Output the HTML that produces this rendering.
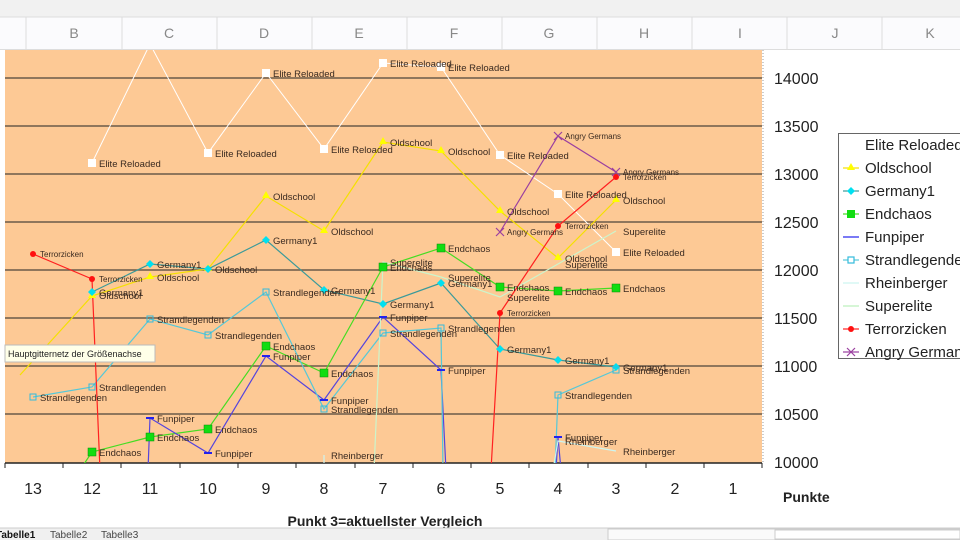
<!DOCTYPE html>
<html><head><meta charset="utf-8"><style>
body{margin:0;width:960px;height:540px;overflow:hidden;background:#fff;font-family:"Liberation Sans",sans-serif}
</style></head><body>
<svg width="960" height="540" viewBox="0 0 960 540" xmlns="http://www.w3.org/2000/svg" font-family="Liberation Sans, sans-serif">
<rect x="0" y="0" width="960" height="17" fill="#f1f1f1"/>
<rect x="0" y="17" width="960" height="33" fill="#fbfbfd"/>
<line x1="0" y1="17" x2="960" y2="17" stroke="#ddd"/>
<line x1="0" y1="49.5" x2="960" y2="49.5" stroke="#ddd"/>
<g stroke="#ddd">
<line x1="26" y1="17" x2="26" y2="50"/><line x1="122" y1="17" x2="122" y2="50"/><line x1="217" y1="17" x2="217" y2="50"/><line x1="312" y1="17" x2="312" y2="50"/><line x1="407" y1="17" x2="407" y2="50"/><line x1="502" y1="17" x2="502" y2="50"/><line x1="597" y1="17" x2="597" y2="50"/><line x1="692" y1="17" x2="692" y2="50"/><line x1="787" y1="17" x2="787" y2="50"/><line x1="882" y1="17" x2="882" y2="50"/>
</g>
<g fill="#888" font-size="14" text-anchor="middle">
<text x="74" y="38">B</text><text x="169" y="38">C</text><text x="264" y="38">D</text><text x="359" y="38">E</text><text x="454" y="38">F</text><text x="549" y="38">G</text><text x="644" y="38">H</text><text x="740" y="38">I</text><text x="835" y="38">J</text><text x="930" y="38">K</text>
</g>
<rect x="5" y="50" width="757" height="413" fill="#fdc995"/>
<g stroke="#6b5a4a" stroke-width="1.5">
<line x1="5" y1="78" x2="762" y2="78"/><line x1="5" y1="126" x2="762" y2="126"/><line x1="5" y1="174" x2="762" y2="174"/><line x1="5" y1="222" x2="762" y2="222"/><line x1="5" y1="270" x2="762" y2="270"/><line x1="5" y1="318" x2="762" y2="318"/><line x1="5" y1="366" x2="762" y2="366"/><line x1="5" y1="414" x2="762" y2="414"/>
</g>
<line x1="5" y1="463" x2="762" y2="463" stroke="#222" stroke-width="1.5"/>
<g stroke="#222"><line x1="5" y1="463" x2="5" y2="468"/><line x1="63" y1="463" x2="63" y2="468"/><line x1="121" y1="463" x2="121" y2="468"/><line x1="180" y1="463" x2="180" y2="468"/><line x1="238" y1="463" x2="238" y2="468"/><line x1="296" y1="463" x2="296" y2="468"/><line x1="355" y1="463" x2="355" y2="468"/><line x1="413" y1="463" x2="413" y2="468"/><line x1="471" y1="463" x2="471" y2="468"/><line x1="529" y1="463" x2="529" y2="468"/><line x1="588" y1="463" x2="588" y2="468"/><line x1="646" y1="463" x2="646" y2="468"/><line x1="704" y1="463" x2="704" y2="468"/><line x1="762" y1="463" x2="762" y2="468"/></g>
<line x1="763" y1="50" x2="763" y2="463" stroke="#999" stroke-dasharray="1,2"/>
<g font-size="16" fill="#222" text-anchor="middle">
<text x="33" y="494">13</text><text x="92" y="494">12</text><text x="150" y="494">11</text><text x="208" y="494">10</text><text x="266" y="494">9</text><text x="324" y="494">8</text><text x="383" y="494">7</text><text x="441" y="494">6</text><text x="500" y="494">5</text><text x="558" y="494">4</text><text x="616" y="494">3</text><text x="675" y="494">2</text><text x="733" y="494">1</text>
</g>
<g font-size="16" fill="#222">
<text x="774" y="84">14000</text><text x="774" y="132">13500</text><text x="774" y="180">13000</text><text x="774" y="228">12500</text><text x="774" y="276">12000</text><text x="774" y="324">11500</text><text x="774" y="372">11000</text><text x="774" y="420">10500</text><text x="774" y="468">10000</text>
</g>
<text x="783" y="502" font-size="14" font-weight="bold" fill="#222">Punkte</text>
<text x="385" y="526" font-size="14" font-weight="bold" fill="#222" text-anchor="middle">Punkt 3=aktuellster Vergleich</text>
<defs><clipPath id="c"><rect x="5" y="50" width="757" height="413"/></clipPath></defs>
<g clip-path="url(#c)" fill="none" stroke-width="1.2">
<polyline stroke="#fff" stroke-width="1" points="92,163 150,44 208,153 266,73 324,149 383,63 441,67 500,155 558,194 616,252"/>
<polyline stroke="#f5e000" points="20,375 92,296 150,277 208,269 266,196 324,231 383,142 441,151 500,211 558,258 616,200"/>
<polyline stroke="#3a9a9a" points="92,292 150,264 208,269 266,240 324,290 383,304 441,283 500,349 558,360 616,367"/>
<polyline stroke="#44dd22" points="80,470 92,452 150,437 208,429 266,346 324,373 383,267 441,248 500,287 558,291 616,288"/>
<polyline stroke="#5544dd" points="148,470 150,418 208,453 266,356 324,400 383,317 441,370 446,470"/>
<polyline stroke="#5544dd" points="556,470 558,437 561,470"/>
<polyline stroke="#55c8d8" points="33,397 92,387 150,319 208,335 266,292 324,409 383,333 441,328 443,470"/>
<polyline stroke="#55c8d8" points="555,470 558,395 616,370"/>
<polyline stroke="#ccf5f0" points="324,455 324,470"/>
<polyline stroke="#ccf5f0" points="553,470 558,441 616,451"/>
<polyline stroke="#ccf5cc" points="374,470 383,262 441,277 500,297 558,264 616,231"/>
<polyline stroke="#ff2020" points="33,254 92,279 100,470"/>
<polyline stroke="#ff2020" points="491,470 500,313 558,226 616,177"/>
<polyline stroke="#9a3fa0" points="500,232 558,136 616,172"/>
</g>
<g stroke="none">
<g fill="#fff"><rect x="88" y="159" width="8" height="8"/><rect x="204" y="149" width="8" height="8"/><rect x="262" y="69" width="8" height="8"/><rect x="320" y="145" width="8" height="8"/><rect x="379" y="59" width="8" height="8"/><rect x="437" y="63" width="8" height="8"/><rect x="496" y="151" width="8" height="8"/><rect x="554" y="190" width="8" height="8"/><rect x="612" y="248" width="8" height="8"/></g>
<g fill="#ffff00"><path d="M92,291 l4,7 h-8z"/><path d="M150,272 l4,7 h-8z"/><path d="M208,264 l4,7 h-8z"/><path d="M266,191 l4,7 h-8z"/><path d="M324,226 l4,7 h-8z"/><path d="M383,137 l4,7 h-8z"/><path d="M441,146 l4,7 h-8z"/><path d="M500,206 l4,7 h-8z"/><path d="M558,253 l4,7 h-8z"/><path d="M616,195 l4,7 h-8z"/></g>
<g fill="#00e0f0"><path d="M92,288l4,4-4,4-4-4z"/><path d="M150,260l4,4-4,4-4-4z"/><path d="M208,265l4,4-4,4-4-4z"/><path d="M266,236l4,4-4,4-4-4z"/><path d="M324,286l4,4-4,4-4-4z"/><path d="M383,300l4,4-4,4-4-4z"/><path d="M441,279l4,4-4,4-4-4z"/><path d="M500,345l4,4-4,4-4-4z"/><path d="M558,356l4,4-4,4-4-4z"/><path d="M616,363l4,4-4,4-4-4z"/></g>
<g fill="#11dd11" stroke="#0a8a0a" stroke-width="0.5"><rect x="88" y="448" width="8" height="8"/><rect x="146" y="433" width="8" height="8"/><rect x="204" y="425" width="8" height="8"/><rect x="262" y="342" width="8" height="8"/><rect x="320" y="369" width="8" height="8"/><rect x="379" y="263" width="8" height="8"/><rect x="437" y="244" width="8" height="8"/><rect x="496" y="283" width="8" height="8"/><rect x="554" y="287" width="8" height="8"/><rect x="612" y="284" width="8" height="8"/></g>
<g fill="#2222ee"><rect x="146" y="417" width="8" height="2"/><rect x="204" y="452" width="8" height="2"/><rect x="262" y="355" width="8" height="2"/><rect x="320" y="399" width="8" height="2"/><rect x="379" y="316" width="8" height="2"/><rect x="437" y="369" width="8" height="2"/><rect x="554" y="436" width="8" height="2"/></g>
<g fill="none" stroke="#33bbdd"><rect x="30" y="394" width="6" height="6"/><rect x="89" y="384" width="6" height="6"/><rect x="147" y="316" width="6" height="6"/><rect x="205" y="332" width="6" height="6"/><rect x="263" y="289" width="6" height="6"/><rect x="321" y="406" width="6" height="6"/><rect x="380" y="330" width="6" height="6"/><rect x="438" y="325" width="6" height="6"/><rect x="555" y="392" width="6" height="6"/><rect x="613" y="367" width="6" height="6"/></g>
<g fill="#ff1010"><circle cx="33" cy="254" r="3"/><circle cx="92" cy="279" r="3"/><circle cx="500" cy="313" r="3"/><circle cx="558" cy="226" r="3"/><circle cx="616" cy="177" r="3"/></g>
<g stroke="#9a3fa0" stroke-width="1.2"><path d="M496,228l8,8M504,228l-8,8"/><path d="M554,132l8,8M562,132l-8,8"/><path d="M612,168l8,8M620,168l-8,8"/></g>
</g>
<g font-size="9.5" fill="#3a2a20">
<text x="99" y="167">Elite Reloaded</text><text x="215" y="157">Elite Reloaded</text><text x="273" y="77">Elite Reloaded</text><text x="331" y="153">Elite Reloaded</text><text x="390" y="67">Elite Reloaded</text><text x="448" y="71">Elite Reloaded</text><text x="507" y="159">Elite Reloaded</text><text x="565" y="198">Elite Reloaded</text><text x="623" y="256">Elite Reloaded</text>
<text x="99" y="299">Oldschool</text><text x="157" y="281">Oldschool</text><text x="215" y="273">Oldschool</text><text x="273" y="200">Oldschool</text><text x="331" y="235">Oldschool</text><text x="390" y="146">Oldschool</text><text x="448" y="155">Oldschool</text><text x="507" y="215">Oldschool</text><text x="565" y="262">Oldschool</text><text x="623" y="204">Oldschool</text>
<text x="99" y="296">Germany1</text><text x="157" y="268">Germany1</text><text x="273" y="244">Germany1</text><text x="331" y="294">Germany1</text><text x="390" y="308">Germany1</text><text x="448" y="287">Germany1</text><text x="507" y="353">Germany1</text><text x="565" y="364">Germany1</text><text x="623" y="371">Germany1</text>
<text x="99" y="456">Endchaos</text><text x="157" y="441">Endchaos</text><text x="215" y="433">Endchaos</text><text x="273" y="350">Endchaos</text><text x="331" y="377">Endchaos</text><text x="390" y="271">Endchaos</text><text x="448" y="252">Endchaos</text><text x="507" y="291">Endchaos</text><text x="565" y="295">Endchaos</text><text x="623" y="292">Endchaos</text>
<text x="157" y="422">Funpiper</text><text x="215" y="457">Funpiper</text><text x="273" y="360">Funpiper</text><text x="331" y="404">Funpiper</text><text x="390" y="321">Funpiper</text><text x="448" y="374">Funpiper</text><text x="565" y="441">Funpiper</text>
<text x="40" y="401">Strandlegenden</text><text x="99" y="391">Strandlegenden</text><text x="157" y="323">Strandlegenden</text><text x="215" y="339">Strandlegenden</text><text x="273" y="296">Strandlegenden</text><text x="331" y="413">Strandlegenden</text><text x="390" y="337">Strandlegenden</text><text x="448" y="332">Strandlegenden</text><text x="565" y="399">Strandlegenden</text><text x="623" y="374">Strandlegenden</text>
<text x="331" y="459">Rheinberger</text><text x="565" y="445">Rheinberger</text><text x="623" y="455">Rheinberger</text>
<text x="390" y="266">Superelite</text><text x="448" y="281">Superelite</text><text x="507" y="301">Superelite</text><text x="565" y="268">Superelite</text><text x="623" y="235">Superelite</text>
</g>
<g font-size="8" fill="#3a2a20">
<text x="40" y="257">Terrorzicken</text><text x="99" y="282">Terrorzicken</text><text x="507" y="316">Terrorzicken</text><text x="565" y="229">Terrorzicken</text><text x="623" y="180">Terrorzicken</text>
<text x="507" y="235">Angry Germans</text><text x="565" y="139">Angry Germans</text><text x="623" y="175">Angry Germans</text>
</g>
<rect x="5" y="345" width="150" height="17" fill="#ffffe8" stroke="#bbb"/>
<text x="8" y="357" font-size="9" fill="#222">Hauptgitternetz der Größenachse</text>
<rect x="838.5" y="133.5" width="130" height="225" fill="#fff" stroke="#666"/>
<g font-size="15" fill="#222">
<text x="865" y="150">Elite Reloaded</text><text x="865" y="173">Oldschool</text><text x="865" y="196">Germany1</text><text x="865" y="219">Endchaos</text><text x="865" y="242">Funpiper</text><text x="865" y="265">Strandlegenden</text><text x="865" y="288">Rheinberger</text><text x="865" y="311">Superelite</text><text x="865" y="334">Terrorzicken</text><text x="865" y="357">Angry Germans</text>
</g>
<g stroke-width="1.2">
<line x1="843" y1="168" x2="859" y2="168" stroke="#f5e000"/><path d="M851,163l4,7h-8z" fill="#ff0"/>
<line x1="843" y1="191" x2="859" y2="191" stroke="#3a9a9a"/><path d="M851,187l4,4-4,4-4-4z" fill="#00e0f0"/>
<line x1="843" y1="214" x2="859" y2="214" stroke="#44dd22"/><rect x="847" y="210" width="8" height="8" fill="#11dd11"/>
<line x1="843" y1="237" x2="859" y2="237" stroke="#2222ee"/>
<line x1="843" y1="260" x2="859" y2="260" stroke="#55c8d8"/><rect x="848" y="257" width="6" height="6" fill="#fff" stroke="#33bbdd"/>
<line x1="843" y1="283" x2="859" y2="283" stroke="#ccf5f0"/>
<line x1="843" y1="306" x2="859" y2="306" stroke="#bbf0bb"/>
<line x1="843" y1="329" x2="859" y2="329" stroke="#ff2020"/><circle cx="851" cy="329" r="3" fill="#f11"/>
<line x1="843" y1="352" x2="859" y2="352" stroke="#9a3fa0"/><path d="M847,348l8,8M855,348l-8,8" stroke="#9a3fa0"/>
</g>
<rect x="0" y="528" width="960" height="12" fill="#f0f0f0"/>
<line x1="0" y1="528" x2="960" y2="528" stroke="#ccc"/>
<g font-size="10" fill="#444"><text x="-4" y="538" font-weight="bold" fill="#111">Tabelle1</text><text x="50" y="538">Tabelle2</text><text x="101" y="538">Tabelle3</text></g>
<rect x="608" y="529" width="352" height="11" fill="#fafafa" stroke="#ccc"/>
<rect x="775" y="530" width="185" height="9" fill="#fff" stroke="#ccc"/>
</svg>
</body></html>
